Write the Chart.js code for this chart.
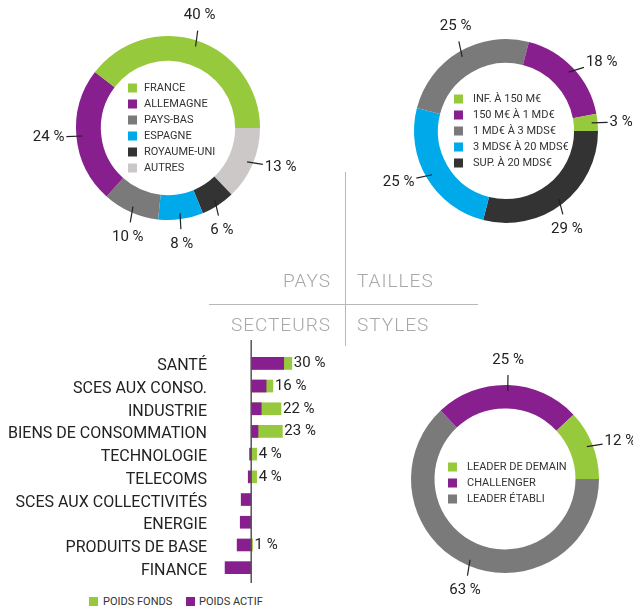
<!DOCTYPE html>
<html>
<head>
<meta charset="utf-8">
<script src="https://cdn.jsdelivr.net/npm/chart.js@4.4.1/dist/chart.umd.min.js"></script>
<style>
  body { margin: 0; background: #fff; font-family: Roboto, sans-serif; }
  #page { position: relative; width: 633px; height: 609px; overflow: hidden; background: #fff; }
  canvas { position: absolute; }
  .title { position: absolute; font-size: 19px; font-weight: 300; color: #a8a8a8; letter-spacing: 1px; line-height: 20px; white-space: nowrap; }
  .rule { position: absolute; background: #b8b8b8; }
  .key { position: absolute; font-size: 11px; color: #333; line-height: 12px; white-space: nowrap; }
  .swatch { position: absolute; width: 9px; height: 9px; }
</style>
</head>
<body>
<div id="page">
  <canvas id="pays" width="340" height="260" style="left:0;top:0"></canvas>
  <canvas id="tailles" width="288" height="260" style="left:345px;top:0"></canvas>
  <canvas id="secteurs" width="346" height="245" style="left:0;top:340px"></canvas>
  <canvas id="styles" width="288" height="269" style="left:345px;top:340px"></canvas>

  <div class="rule" style="left:345px;top:172px;width:1px;height:174px"></div>
  <div class="rule" style="left:209px;top:304px;width:269px;height:1px"></div>
  <div class="title" style="right:302px;top:271px">PAYS</div>
  <div class="title" style="left:357px;top:271px">TAILLES</div>
  <div class="title" style="right:302px;top:315px">SECTEURS</div>
  <div class="title" style="left:357px;top:315px">STYLES</div>

  <div class="swatch" style="left:89px;top:597px;background:#97c93c"></div>
  <div class="key" style="left:103px;top:596px">POIDS FONDS</div>
  <div class="swatch" style="left:186px;top:597px;background:#871f8e"></div>
  <div class="key" style="left:199px;top:596px">POIDS ACTIF</div>
</div>
<script>
const GREEN = '#97c93c';
const PURPLE = '#871f8e';
const GREY = '#7a7a7a';
const BLUE = '#00a9ea';
const DARK = '#333333';
const LIGHT = '#cdc8c8';

// Pays
const paysLabels = ['FRANCE', 'ALLEMAGNE', 'PAYS-BAS', 'ESPAGNE', 'ROYAUME-UNI', 'AUTRES'];
const paysValues = [40, 24, 10, 8, 6, 13];
const paysColors = [GREEN, PURPLE, GREY, BLUE, DARK, LIGHT];

// Tailles
const taillesLabels = ['INF. À 150 M€', '150 M€ À 1 MD€', '1 MD€ À 3 MDS€', '3 MDS€ À 20 MDS€', 'SUP. À 20 MDS€'];
const taillesValues = [3, 18, 25, 25, 29];
const taillesColors = [GREEN, PURPLE, GREY, BLUE, DARK];

// Styles
const stylesLabels = ['LEADER DE DEMAIN', 'CHALLENGER', 'LEADER ÉTABLI'];
const stylesValues = [12, 25, 63];
const stylesColors = [GREEN, PURPLE, GREY];

// Secteurs
const secteurs = ['SANTÉ', 'SCES AUX CONSO.', 'INDUSTRIE', 'BIENS DE CONSOMMATION', 'TECHNOLOGIE',
  'TELECOMS', 'SCES AUX COLLECTIVITÉS', 'ENERGIE', 'PRODUITS DE BASE', 'FINANCE'];
const poidsFonds = [30, 16, 22, 23, 4, 4, 0, 0, 1, 0];
const poidsActif = [24, 11, 7.4, 5, -1.2, -2.2, -7.4, -8.1, -10.4, -19.3];

// leader lines lean toward the nearest axis, like the hand-placed ones
function leaderAngle(a) {
  const quarter = Math.PI / 2;
  const axis = Math.round(a / quarter) * quarter;
  return axis + 0.4 * (a - axis);
}

// slices run counter-clockwise from 3 o'clock in legend order, chart.js draws clockwise
function donut(id, labels, values, colors, padding, cutout, legend) {
  const labelPlugin = {
    id: 'donutLabels',
    afterDatasetsDraw(chart) {
      const ctx = chart.ctx;
      const meta = chart.getDatasetMeta(0);
      const shown = chart.data.datasets[0].data;
      ctx.save();
      meta.data.forEach((arc, i) => {
        const p = arc.getProps(['x', 'y', 'startAngle', 'endAngle', 'outerRadius'], true);
        const a = (p.startAngle + p.endAngle) / 2;
        const sx = p.x + Math.cos(a) * (p.outerRadius - 6);
        const sy = p.y + Math.sin(a) * (p.outerRadius - 6);
        const b = leaderAngle(a);
        const dx = Math.cos(b);
        const dy = Math.sin(b);
        const ex = sx + dx * 16;
        const ey = sy + dy * 16;
        ctx.strokeStyle = '#222';
        ctx.lineWidth = 1.2;
        ctx.beginPath();
        ctx.moveTo(sx, sy);
        ctx.lineTo(ex, ey);
        ctx.stroke();

        const text = shown[i] + ' %';
        ctx.font = '15px Roboto';
        const hw = ctx.measureText(text).width / 2;
        const t = Math.min(
          Math.abs(dx) > 1e-6 ? hw / Math.abs(dx) + 2 : Infinity,
          Math.abs(dy) > 1e-6 ? 9 / Math.abs(dy) + 6 : Infinity
        );
        ctx.fillStyle = '#222';
        ctx.textAlign = 'center';
        ctx.textBaseline = 'middle';
        ctx.fillText(text, ex + dx * t, ey + dy * t);
      });

      const cx = meta.data[0].x;
      const cy = meta.data[0].y;
      ctx.font = '11px Roboto';
      ctx.textAlign = 'left';
      ctx.textBaseline = 'middle';
      labels.forEach((label, i) => {
        const y = cy + legend.y + i * 16;
        ctx.fillStyle = colors[i];
        ctx.fillRect(cx + legend.x, y - 4.5, 9, 9);
        ctx.fillStyle = '#333';
        ctx.fillText(label, cx + legend.x + legend.gap, y + 0.5);
      });
      ctx.restore();
    },
  };

  new Chart(document.getElementById(id), {
    type: 'doughnut',
    data: {
      labels: [...labels].reverse(),
      datasets: [{
        data: [...values].reverse(),
        backgroundColor: [...colors].reverse(),
        borderWidth: 0,
      }],
    },
    options: {
      responsive: false,
      animation: false,
      rotation: 90,
      cutout,
      layout: { padding },
      plugins: { legend: { display: false }, tooltip: { enabled: false } },
    },
    plugins: [labelPlugin],
  });
}

donut('pays', paysLabels, paysValues, paysColors,
  { left: 76, right: 80, top: 36, bottom: 40 }, '73%', { x: -40, y: -40, gap: 16 });
donut('tailles', taillesLabels, taillesValues, taillesColors,
  { left: 69, right: 35, top: 39, bottom: 37 }, '74%', { x: -52, y: -32, gap: 19 });
donut('styles', stylesLabels, stylesValues, stylesColors,
  { left: 66, right: 34, top: 45, bottom: 36 }, '75%', { x: -57, y: -12, gap: 19 });

const zeroLine = {
  id: 'zeroLine',
  afterDatasetsDraw(chart) {
    const { ctx, chartArea, scales } = chart;
    const x = scales.x.getPixelForValue(0);
    ctx.save();
    ctx.strokeStyle = '#555';
    ctx.lineWidth = 1.5;
    ctx.beginPath();
    ctx.moveTo(x, chartArea.top - 12);
    ctx.lineTo(x, chartArea.bottom + 4);
    ctx.stroke();
    ctx.restore();
  },
};

const valueLabels = {
  id: 'valueLabels',
  afterDatasetsDraw(chart) {
    const ctx = chart.ctx;
    const meta = chart.getDatasetMeta(1);
    ctx.save();
    ctx.font = '15px Roboto';
    ctx.fillStyle = '#222';
    ctx.textAlign = 'left';
    ctx.textBaseline = 'middle';
    meta.data.forEach((bar, i) => {
      if (poidsFonds[i] > 0) {
        ctx.fillText(poidsFonds[i] + ' %', bar.x + 2, bar.y);
      }
    });
    ctx.restore();
  },
};

new Chart(document.getElementById('secteurs'), {
  type: 'bar',
  data: {
    labels: secteurs,
    datasets: [
      { label: 'POIDS ACTIF', data: poidsActif, backgroundColor: PURPLE, grouped: false, order: 0, barThickness: 12 },
      { label: 'POIDS FONDS', data: poidsFonds, backgroundColor: GREEN, grouped: false, order: 1, barThickness: 12 },
    ],
  },
  options: {
    indexAxis: 'y',
    responsive: false,
    animation: false,
    layout: { padding: { top: 12, bottom: 6, left: 0, right: 0 } },
    scales: {
      x: { display: false, min: -26, max: 70 },
      y: {
        grid: { display: false, drawTicks: false },
        border: { display: false },
        ticks: { font: { family: 'Roboto', size: 16 }, color: '#222', padding: 9, labelOffset: 3, autoSkip: false },
        afterFit(scale) {
          scale.width = 216;
          scale.paddingTop = 0;
          scale.paddingBottom = 0;
        },
      },
    },
    plugins: { legend: { display: false }, tooltip: { enabled: false } },
  },
  plugins: [zeroLine, valueLabels],
});
</script>
</body>
</html>
